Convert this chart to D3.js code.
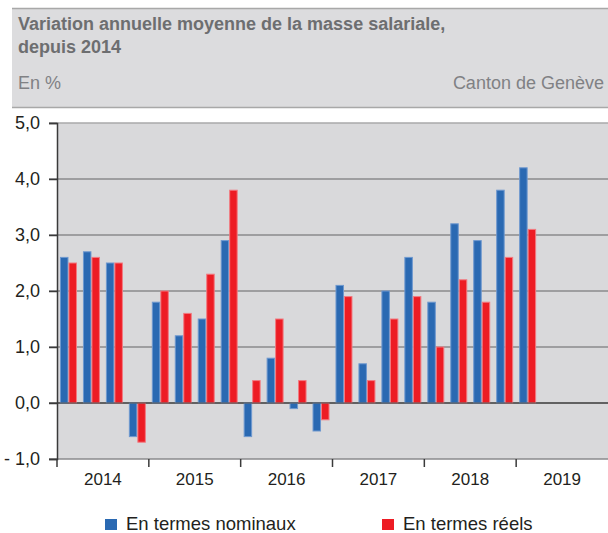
<!DOCTYPE html>
<html>
<head>
<meta charset="utf-8">
<title>Masse salariale</title>
<style>
body { margin: 0; background: #fff; }
svg { display: block; font-family: "Liberation Sans", Arial, sans-serif; }
</style>
</head>
<body>
<svg id="chart"></svg>
<script src="https://cdnjs.cloudflare.com/ajax/libs/d3/7.8.5/d3.min.js"></script>
<script>
var years = ['2014', '2015', '2016', '2017', '2018', '2019'];
var quarters = ['T1', 'T2', 'T3', 'T4'];
var nominaux = [2.6, 2.7, 2.5, -0.6, 1.8, 1.2, 1.5, 2.9, -0.6, 0.8, -0.1, -0.5, 2.1, 0.7, 2.0, 2.6, 1.8, 3.2, 2.9, 3.8, 4.2];
var reels = [2.5, 2.6, 2.5, -0.7, 2.0, 1.6, 2.3, 3.8, 0.4, 1.5, 0.4, -0.3, 1.9, 0.4, 1.5, 1.9, 1.0, 2.2, 1.8, 2.6, 3.1];
var yTicks = [-1, 0, 1, 2, 3, 4, 5];
var seriesNames = ['En termes nominaux', 'En termes réels'];
var colors = ['#2a69b2', '#ed1c24'];
var strokes = ['#6e98cf', '#f27a80'];

var width = 608, height = 533;
var plotLeft = 57, plotRight = 608, plotTop = 123, plotBottom = 459;

var svg = d3.select('#chart').attr('width', width).attr('height', height);

// header band
svg.append('rect').attr('x', 12).attr('y', 8).attr('width', width - 12).attr('height', 100).attr('fill', '#dcdcde');
svg.append('line').attr('x1', 12).attr('x2', width).attr('y1', 8.5).attr('y2', 8.5).attr('stroke', '#a8a8a8').attr('stroke-width', 1.5);
svg.append('line').attr('x1', 12).attr('x2', width).attr('y1', 107.5).attr('y2', 107.5).attr('stroke', '#a8a8a8').attr('stroke-width', 1.5);
svg.append('text').attr('x', 18).attr('y', 30).attr('fill', '#6d6e70').attr('font-weight', 'bold').attr('font-size', '18px')
  .text('Variation annuelle moyenne de la masse salariale,');
svg.append('text').attr('x', 18).attr('y', 53).attr('fill', '#6d6e70').attr('font-weight', 'bold').attr('font-size', '18px')
  .text('depuis 2014');
svg.append('text').attr('x', 18).attr('y', 89).attr('fill', '#808184').attr('font-size', '18px').text('En %');
svg.append('text').attr('x', 604).attr('y', 89).attr('fill', '#808184').attr('font-size', '18px')
  .attr('text-anchor', 'end').text('Canton de Genève');

// scales
var keys = [];
years.forEach(function(y) { quarters.forEach(function(q) { keys.push(y + q); }); });

var x = d3.scaleBand().domain(keys).range([plotLeft, plotRight]).paddingInner(0.26).paddingOuter(0.13);
var xYear = d3.scaleBand().domain(years).range([plotLeft, plotRight]);
var y = d3.scaleLinear().domain([-1, 5]).range([plotBottom, plotTop]);

var data = nominaux.map(function(v, i) {
  return { key: keys[i], values: [v, reels[i]] };
});

var xSeries = d3.scaleBand().domain([0, 1]).range([0, x.bandwidth()]);

// plot background
svg.append('rect').attr('x', plotLeft).attr('y', plotTop).attr('width', plotRight - plotLeft).attr('height', plotBottom - plotTop).attr('fill', '#d9d9db');

// grid
svg.append('g').selectAll('line').data(yTicks).enter().append('line')
  .attr('x1', plotLeft - 8).attr('x2', plotRight)
  .attr('y1', function(d) { return y(d); }).attr('y2', function(d) { return y(d); })
  .attr('stroke', function(d) { return d == 5 ? '#a8a8aa' : (d == 0 ? '#505050' : '#8a8a8c'); })
  .attr('stroke-width', 1.5);

// bars
var groups = svg.append('g').selectAll('g').data(data).enter().append('g')
  .attr('transform', function(d) { return 'translate(' + x(d.key) + ',0)'; });

groups.selectAll('rect').data(function(d) { return d.values; }).enter().append('rect')
  .attr('x', function(d, i) { return xSeries(i) + 0.5; })
  .attr('width', xSeries.bandwidth() - 1)
  .attr('y', function(d) { return y(Math.max(0, d)); })
  .attr('height', function(d) { return Math.abs(y(d) - y(0)); })
  .attr('fill', function(d, i) { return colors[i]; })
  .attr('stroke', function(d, i) { return strokes[i]; })
  .attr('stroke-width', 1);

// redraw zero line over bars
svg.append('line').attr('x1', plotLeft).attr('x2', plotRight).attr('y1', y(0)).attr('y2', y(0))
  .attr('stroke', '#505050').attr('stroke-width', 1.2);

// y axis
var yAxis = svg.append('g').attr('transform', 'translate(' + plotLeft + ',0)')
  .call(d3.axisLeft(y).tickValues(yTicks).tickSize(8).tickPadding(9)
    .tickFormat(function(d) { return (d < 0 ? '- ' + d3.format('.1f')(-d) : d3.format('.1f')(d)).replace('.', ','); }));
yAxis.select('.domain').attr('stroke', '#3a3a3a').attr('stroke-width', 1.5);
yAxis.selectAll('.tick line').attr('stroke', '#3a3a3a').attr('stroke-width', 1.5);
yAxis.selectAll('text').attr('font-size', '18px').attr('fill', '#231f20').attr('font-family', null);

// x axis: labels centred on years, ticks at year starts
var xAxis = svg.append('g').attr('transform', 'translate(0,' + plotBottom + ')')
  .call(d3.axisBottom(xYear).tickSize(0).tickPadding(14));
xAxis.select('.domain').remove();
xAxis.selectAll('text').attr('font-size', '17px').attr('fill', '#231f20').attr('font-family', null);
svg.append('g').selectAll('line').data(years).enter().append('line')
  .attr('x1', function(d) { return xYear(d); }).attr('x2', function(d) { return xYear(d); })
  .attr('y1', plotBottom).attr('y2', plotBottom + 8)
  .attr('stroke', '#3a3a3a').attr('stroke-width', 1.5);

// legend
var legendX = [105, 382];
var legend = svg.append('g').selectAll('g').data(seriesNames).enter().append('g')
  .attr('transform', function(d, i) { return 'translate(' + legendX[i] + ',516)'; });
legend.append('rect').attr('width', 12).attr('height', 11).attr('y', 3).attr('fill', function(d, i) { return colors[i]; });
legend.append('text').attr('x', 21).attr('y', 14).attr('font-size', '18.5px').attr('fill', '#231f20').text(function(d) { return d; });
</script>
</body>
</html>
